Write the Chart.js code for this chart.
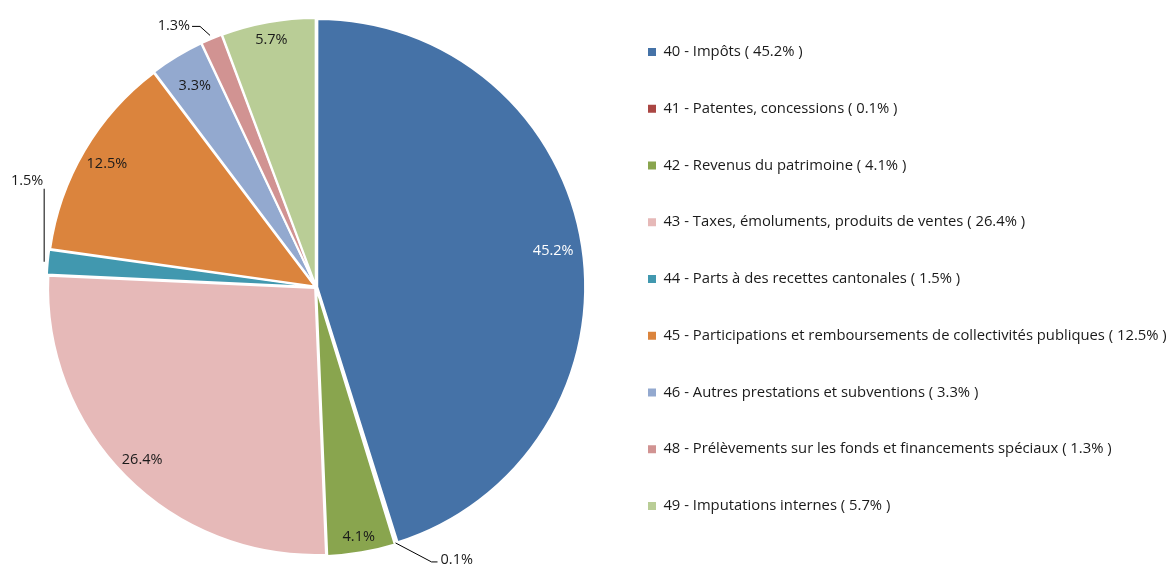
<!DOCTYPE html>
<html><head><meta charset="utf-8">
<script src="https://cdn.jsdelivr.net/npm/chart.js@4/dist/chart.umd.min.js"></script>
<style>html,body{margin:0;padding:0;background:#fff}#wrap{width:1171px;height:565px;position:relative}</style>
</head><body><div id="wrap"><canvas id="c" width="1171" height="565"></canvas></div>
<script>
const categories = [
  "40 - Impôts",
  "41 - Patentes, concessions",
  "42 - Revenus du patrimoine",
  "43 - Taxes, émoluments, produits de ventes",
  "44 - Parts à des recettes cantonales",
  "45 - Participations et remboursements de collectivités publiques",
  "46 - Autres prestations et subventions",
  "48 - Prélèvements sur les fonds et financements spéciaux",
  "49 - Imputations internes"
];
const values = [45.2, 0.1, 4.1, 26.4, 1.5, 12.5, 3.3, 1.3, 5.7];
const colors = ["#4572A7", "#AA4643", "#89A54E", "#E6B9B8", "#4198AF", "#DB843D", "#93A9CF", "#D19392", "#B9CD96"];

const legendLabels = categories.map((c, i) => c + " ( " + values[i].toFixed(1) + "% )");
const FONT = "'Open Sans'";
const LEGEND_BOX_X = 648;
const LEGEND_SHIFT_Y = -8;

// label placement styles (not data)
const insideFactor = {0: 0.88, 2: 0.93, 3: 0.9, 5: 0.89, 6: 0.86, 8: 0.92};
const outside = {
  1: {start: -4, elbow: [36, 19], tail: 6, align: "left"},
  4: {start: 1, elbow: [0, -73], tail: 0, align: "above"},
  7: {start: 1, elbow: [-10, -9], tail: -8, align: "right"}
};

const legendFix = {
  id: "legendFix",
  afterLayout(chart) {
    const lg = chart.legend;
    if (!lg) return;
    const pad = lg.options.labels.padding;
    const w = lg.width;
    lg.left = LEGEND_BOX_X - pad;
    lg.right = lg.left + w;
    lg.top += LEGEND_SHIFT_Y;
    lg.bottom += LEGEND_SHIFT_Y;
  }
};

const pieLabels = {
  id: "pieLabels",
  afterDatasetsDraw(chart) {
    const ctx = chart.ctx;
    const meta = chart.getDatasetMeta(0);
    ctx.save();
    ctx.font = "14.5px " + FONT;
    meta.data.forEach((arc, i) => {
      const p = arc.getProps(["x", "y", "startAngle", "endAngle", "outerRadius"], true);
      const off = arc.options.offset || 0;
      const mid = (p.startAngle + p.endAngle) / 2;
      const cx = Math.cos(mid), cy = Math.sin(mid);
      const txt = values[i].toFixed(1) + "%";
      const o = outside[i];
      if (o) {
        const r = p.outerRadius + off + o.start;
        const sx = p.x + cx * r, sy = p.y + cy * r;
        const ex = sx + o.elbow[0], ey = sy + o.elbow[1];
        const tx = ex + o.tail;
        ctx.strokeStyle = "#000";
        ctx.lineWidth = 1;
        ctx.beginPath();
        ctx.moveTo(sx, sy); ctx.lineTo(ex, ey); ctx.lineTo(tx, ey);
        ctx.stroke();
        ctx.fillStyle = "#1a1a1a";
        if (o.align === "left") {
          ctx.textAlign = "left"; ctx.textBaseline = "middle";
          ctx.fillText(txt, tx + 3, ey - 2);
        } else if (o.align === "right") {
          ctx.textAlign = "right"; ctx.textBaseline = "middle";
          ctx.fillText(txt, tx - 2, ey - 1);
        } else {
          ctx.textAlign = "center"; ctx.textBaseline = "middle";
          ctx.fillText(txt, ex - 17, ey - 8);
        }
      } else {
        const r = p.outerRadius * (insideFactor[i] || 0.9) + off;
        ctx.fillStyle = i === 0 ? "#ffffff" : "#1a1a1a";
        ctx.textAlign = "center"; ctx.textBaseline = "middle";
        ctx.fillText(txt, p.x + cx * r, p.y + cy * r);
      }
    });
    ctx.restore();
  }
};

new Chart(document.getElementById("c"), {
  type: "pie",
  data: {
    labels: legendLabels,
    datasets: [{
      data: values,
      backgroundColor: colors,
      borderColor: "#ffffff",
      borderWidth: 2,
      offset: 5,
      radius: 267
    }]
  },
  options: {
    responsive: false,
    animation: false,
    layout: {padding: {top: 9, bottom: 0, left: 31, right: 0}},
    plugins: {
      tooltip: {enabled: false},
      legend: {
        position: "right",
        align: "center",
        labels: {
          boxWidth: 8,
          boxHeight: 8,
          padding: 41.95,
          color: "#1a1a1a",
          font: {family: FONT, size: 14.8},
          generateLabels: (chart) => Chart.overrides.pie.plugins.legend.labels.generateLabels(chart)
            .map(l => Object.assign(l, {lineWidth: 0, strokeStyle: l.fillStyle}))
        }
      }
    }
  },
  plugins: [legendFix, pieLabels]
});
</script></body></html>
